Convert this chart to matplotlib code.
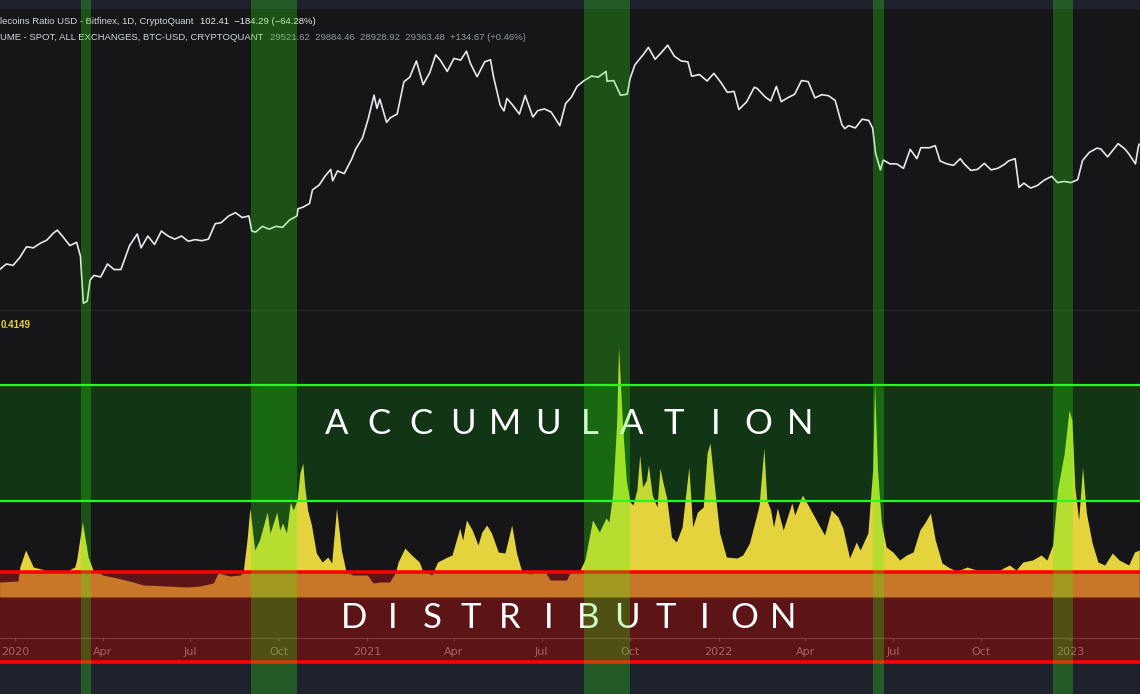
import matplotlib
matplotlib.use("Agg")
import matplotlib.pyplot as plt
import matplotlib.dates as mdates
import pandas as pd

# BTC-USD daily close (log scale)
price_dates = [
    '2019-12-16', '2019-12-23', '2019-12-30', '2020-01-06', '2020-01-13', '2020-01-20', '2020-01-27',
    '2020-02-03', '2020-02-10', '2020-02-14', '2020-02-20', '2020-02-27', '2020-03-05', '2020-03-09',
    '2020-03-12', '2020-03-16', '2020-03-19', '2020-03-23', '2020-03-30', '2020-04-06', '2020-04-13',
    '2020-04-20', '2020-04-29', '2020-05-07', '2020-05-11', '2020-05-18', '2020-05-25', '2020-06-01',
    '2020-06-08', '2020-06-15', '2020-06-22', '2020-06-29', '2020-07-06', '2020-07-13', '2020-07-20',
    '2020-07-27', '2020-08-02', '2020-08-10', '2020-08-17', '2020-08-24', '2020-08-31', '2020-09-03',
    '2020-09-07', '2020-09-14', '2020-09-21', '2020-09-28', '2020-10-05', '2020-10-12', '2020-10-20',
    '2020-10-21', '2020-10-26', '2020-11-02', '2020-11-05', '2020-11-12', '2020-11-18', '2020-11-24',
    '2020-11-26', '2020-12-01', '2020-12-08', '2020-12-16', '2020-12-20', '2020-12-27', '2021-01-02',
    '2021-01-08', '2021-01-11', '2021-01-14', '2021-01-21', '2021-01-25', '2021-02-01', '2021-02-08',
    '2021-02-14', '2021-02-21', '2021-02-28', '2021-03-07', '2021-03-13', '2021-03-18', '2021-03-25',
    '2021-04-01', '2021-04-08', '2021-04-14', '2021-04-18', '2021-04-25', '2021-05-03', '2021-05-09',
    '2021-05-12', '2021-05-19', '2021-05-23', '2021-05-26', '2021-06-01', '2021-06-08', '2021-06-14',
    '2021-06-22', '2021-06-27', '2021-07-04', '2021-07-11', '2021-07-20', '2021-07-26', '2021-08-01',
    '2021-08-07', '2021-08-14', '2021-08-22', '2021-08-29', '2021-09-06', '2021-09-07', '2021-09-14',
    '2021-09-21', '2021-09-28', '2021-10-01', '2021-10-06', '2021-10-15', '2021-10-20', '2021-10-27',
    '2021-11-03', '2021-11-09', '2021-11-16', '2021-11-23', '2021-11-30', '2021-12-04', '2021-12-12',
    '2021-12-20', '2021-12-27', '2022-01-03', '2022-01-10', '2022-01-17', '2022-01-22', '2022-01-30',
    '2022-02-07', '2022-02-10', '2022-02-18', '2022-02-24', '2022-03-02', '2022-03-07', '2022-03-14',
    '2022-03-21', '2022-03-28', '2022-04-04', '2022-04-11', '2022-04-18', '2022-04-25', '2022-05-02',
    '2022-05-09', '2022-05-12', '2022-05-16', '2022-05-23', '2022-05-30', '2022-06-06', '2022-06-10',
    '2022-06-13', '2022-06-18', '2022-06-21', '2022-06-28', '2022-07-05', '2022-07-12', '2022-07-19',
    '2022-07-26', '2022-07-30', '2022-08-08', '2022-08-14', '2022-08-19', '2022-08-26', '2022-09-02',
    '2022-09-09', '2022-09-13', '2022-09-20', '2022-09-27', '2022-10-04', '2022-10-11', '2022-10-18',
    '2022-10-25', '2022-10-29', '2022-11-05', '2022-11-09', '2022-11-14', '2022-11-21', '2022-11-28',
    '2022-12-05', '2022-12-13', '2022-12-19', '2022-12-26', '2023-01-02', '2023-01-09', '2023-01-14',
    '2023-01-21', '2023-01-29', '2023-02-02', '2023-02-09', '2023-02-16', '2023-02-20', '2023-02-27',
    '2023-03-03', '2023-03-10', '2023-03-13', '2023-03-14',
]
price_values = [
    6900, 7300, 7200, 7800, 8700, 8600, 9000,
    9300, 10000, 10300, 9600, 8800, 9100, 7900,
    4900, 5000, 6200, 6500, 6400, 7300, 6900,
    6900, 8800, 9900, 8600, 9700, 8900, 10200,
    9700, 9400, 9700, 9200, 9350, 9250, 9400,
    11000, 11100, 11900, 12300, 11700, 11900, 10200,
    10100, 10700, 10400, 10700, 10600, 11400, 11900,
    12800, 13000, 13500, 15500, 16300, 17800, 19100,
    17000, 18800, 18300, 21300, 23500, 26300, 32000,
    40600, 35500, 39000, 30800, 32300, 33500, 46500,
    48700, 57500, 45200, 51200, 61200, 57800, 51700,
    59000, 58000, 63500, 56200, 49000, 57000, 58200,
    49200, 36700, 34600, 39300, 36700, 33500, 40500,
    32500, 34700, 35300, 34200, 29800, 37300, 39800,
    44500, 47000, 49300, 48800, 51700, 46800, 47100,
    40600, 41000, 48100, 55300, 61600, 66000, 58500,
    63000, 67500, 60300, 57500, 57000, 49200, 50100,
    46900, 50700, 46400, 41800, 42200, 35100, 37900,
    44000, 43500, 40000, 38300, 44400, 38000, 39600,
    41000, 47100, 46600, 39500, 40800, 40400, 38500,
    30100, 28900, 29800, 29100, 31800, 31400, 29000,
    22500, 19000, 21000, 20200, 20200, 19300, 23400,
    21300, 23800, 23800, 24300, 20800, 20200, 19900,
    21300, 20200, 18900, 19100, 20300, 19000, 19300,
    20100, 20800, 21300, 15900, 16600, 15800, 16200,
    17100, 17800, 16700, 16900, 16700, 17200, 20900,
    22700, 23700, 23500, 21700, 23600, 24800, 23500,
    22400, 20200, 24100, 24700,
]

# Stablecoins ratio indicator (arbitrary units)
ratio_dates = [
    '2019-12-16', '2020-01-04', '2020-01-06', '2020-01-12', '2020-01-20', '2020-02-01', '2020-02-06',
    '2020-02-22', '2020-03-03', '2020-03-05', '2020-03-11', '2020-03-17', '2020-03-22', '2020-03-29',
    '2020-04-01', '2020-04-16', '2020-05-03', '2020-05-13', '2020-06-07', '2020-06-28', '2020-07-11',
    '2020-07-25', '2020-07-30', '2020-08-11', '2020-08-22', '2020-08-25', '2020-08-29', '2020-09-01',
    '2020-09-06', '2020-09-11', '2020-09-19', '2020-09-22', '2020-09-29', '2020-10-02', '2020-10-05',
    '2020-10-09', '2020-10-13', '2020-10-16', '2020-10-20', '2020-10-23', '2020-10-26', '2020-10-28',
    '2020-10-31', '2020-11-04', '2020-11-09', '2020-11-15', '2020-11-21', '2020-11-25', '2020-11-30',
    '2020-12-05', '2020-12-10', '2020-12-17', '2021-01-01', '2021-01-07', '2021-01-14', '2021-01-24',
    '2021-01-30', '2021-02-02', '2021-02-09', '2021-02-16', '2021-02-24', '2021-02-27', '2021-03-09',
    '2021-03-15', '2021-03-25', '2021-03-30', '2021-04-07', '2021-04-10', '2021-04-14', '2021-04-20',
    '2021-04-26', '2021-04-30', '2021-05-05', '2021-05-10', '2021-05-17', '2021-05-24', '2021-05-31',
    '2021-06-05', '2021-06-10', '2021-06-19', '2021-07-01', '2021-07-06', '2021-07-10', '2021-07-27',
    '2021-08-01', '2021-08-09', '2021-08-15', '2021-08-23', '2021-08-30', '2021-09-06', '2021-09-09',
    '2021-09-13', '2021-09-17', '2021-09-19', '2021-09-23', '2021-09-27', '2021-10-01', '2021-10-04',
    '2021-10-08', '2021-10-11', '2021-10-14', '2021-10-18', '2021-10-20', '2021-10-24', '2021-10-29',
    '2021-11-01', '2021-11-04', '2021-11-08', '2021-11-13', '2021-11-18', '2021-11-24', '2021-12-01',
    '2021-12-05', '2021-12-10', '2021-12-16', '2021-12-20', '2021-12-23', '2021-12-28', '2022-01-02',
    '2022-01-09', '2022-01-20', '2022-01-26', '2022-02-02', '2022-02-09', '2022-02-12', '2022-02-17',
    '2022-02-20', '2022-02-24', '2022-02-27', '2022-03-03', '2022-03-09', '2022-03-18', '2022-03-21',
    '2022-03-29', '2022-04-05', '2022-04-14', '2022-04-21', '2022-04-28', '2022-05-05', '2022-05-10',
    '2022-05-17', '2022-05-24', '2022-05-28', '2022-06-05', '2022-06-10', '2022-06-12', '2022-06-15',
    '2022-06-19', '2022-06-24', '2022-07-01', '2022-07-08', '2022-07-15', '2022-07-22', '2022-07-29',
    '2022-08-03', '2022-08-09', '2022-08-14', '2022-08-21', '2022-08-29', '2022-09-06', '2022-09-16',
    '2022-09-26', '2022-10-06', '2022-10-20', '2022-10-30', '2022-11-06', '2022-11-13', '2022-11-23',
    '2022-12-02', '2022-12-08', '2022-12-14', '2022-12-19', '2022-12-26', '2022-12-31', '2023-01-03',
    '2023-01-06', '2023-01-10', '2023-01-14', '2023-01-18', '2023-01-24', '2023-01-30', '2023-02-06',
    '2023-02-14', '2023-02-21', '2023-03-03', '2023-03-09', '2023-03-14',
]
ratio_values = [
    1.5, 1.6, 3.0, 4.7, 3.0, 2.7, 2.5,
    2.5, 3.0, 3.7, 7.5, 4.0, 2.7, 2.4,
    2.2, 1.9, 1.5, 1.2, 1.1, 1.0, 1.1,
    1.4, 2.4, 2.1, 2.2, 2.5, 5.7, 8.9,
    4.7, 5.7, 8.5, 6.4, 8.5, 6.7, 7.4,
    6.4, 9.5, 8.7, 9.7, 12.4, 13.4, 11.0,
    8.7, 7.2, 4.4, 3.5, 4.0, 3.4, 8.9,
    4.7, 2.5, 2.2, 2.2, 1.4, 1.5, 1.5,
    2.4, 3.5, 4.9, 4.2, 3.5, 2.7, 2.2,
    3.5, 4.0, 4.2, 6.9, 5.7, 7.7, 6.7,
    5.2, 6.5, 7.2, 6.4, 4.5, 4.4, 7.2,
    4.4, 2.7, 2.3, 2.7, 2.3, 1.7, 1.7,
    2.7, 2.5, 3.7, 7.7, 6.5, 7.9, 7.5,
    10.4, 17.4, 25.0, 17.4, 11.7, 9.5, 9.2,
    10.7, 14.2, 11.0, 11.7, 13.2, 10.2, 9.0,
    12.9, 11.5, 9.9, 6.0, 5.5, 7.0, 13.0,
    7.0, 8.5, 9.0, 14.4, 15.4, 10.7, 6.4,
    4.0, 3.9, 4.2, 5.4, 8.0, 9.2, 14.9,
    9.7, 8.7, 7.0, 8.9, 6.7, 9.4, 8.2,
    10.2, 9.0, 7.4, 6.2, 8.7, 8.0, 6.9,
    3.9, 5.5, 4.7, 6.4, 12.7, 21.4, 12.7,
    7.4, 5.0, 4.5, 3.7, 4.2, 4.5, 6.7,
    7.4, 8.4, 5.7, 3.4, 2.9, 2.6, 3.0,
    2.7, 2.7, 2.7, 3.2, 2.7, 3.5, 3.7,
    4.2, 3.7, 5.2, 10.7, 14.4, 18.7, 17.7,
    11.0, 7.7, 13.0, 8.4, 5.4, 3.5, 3.2,
    4.4, 3.7, 3.2, 4.5, 4.7,
]

# highlighted accumulation periods
band_starts = ['2020-03-10', '2020-09-02', '2021-08-14', '2022-06-10', '2022-12-14']
band_ends = ['2020-03-20', '2020-10-20', '2021-10-01', '2022-06-22', '2023-01-04']

accum_low, accum_high = 9.6, 21.2
distrib_low, distrib_high = -6.5, 2.5

tick_dates = ['2020-01-01', '2020-04-01', '2020-07-01', '2020-10-01', '2021-01-01', '2021-04-01',
              '2021-07-01', '2021-10-01', '2022-01-01', '2022-04-01', '2022-07-01', '2022-10-01',
              '2023-01-01']
tick_labels = ['2020', 'Apr', 'Jul', 'Oct', '2021', 'Apr', 'Jul', 'Oct', '2022', 'Apr', 'Jul', 'Oct', '2023']

W, H = 1140, 694
BG = '#161619'
OUTER = '#1e222d'


def d(s):
    return mdates.date2num(pd.to_datetime(s))


px_per_day = 0.9626
x_left = d('2020-01-01') - 15 / px_per_day
x_right = d('2020-01-01') + (W - 15) / px_per_day

fig = plt.figure(figsize=(W / 100, H / 100), dpi=100, facecolor=OUTER)
renderer = fig.canvas.get_renderer()

# price panel
ax_p = fig.add_axes([0, 1 - 311 / H, 1, (311 - 9) / H], facecolor=BG)
ax_p.set_yscale('log')
ax_p.plot([d(s) for s in price_dates], price_values, color='#e6e8ee', lw=1.2, zorder=3)
ax_p.set_xlim(x_left, x_right)
ax_p.set_ylim(4527, 97500)
ax_p.set_xticks([])
ax_p.set_yticks([])
ax_p.minorticks_off()
for sp in ax_p.spines.values():
    sp.set_visible(False)
ax_p.spines['bottom'].set_visible(True)
ax_p.spines['bottom'].set_color('#6b6e78')
ax_p.spines['bottom'].set_linewidth(1)

# ratio panel
ax_r = fig.add_axes([0, 1 - 662 / H, 1, (662 - 311) / H], facecolor=BG)
rx = [d(s) for s in ratio_dates]
ax_r.fill_between(rx, 0, ratio_values, color='#e4d33c', lw=0, zorder=2)
ax_r.set_xlim(x_left, x_right)
ax_r.set_ylim(-6.5, 28.6)
ax_r.set_xticks([])
ax_r.set_yticks([])
for sp in ax_r.spines.values():
    sp.set_visible(False)

# time axis drawn inside the lower band
ax_r.axhline(-4.1, color='#9a9da6', lw=0.8, alpha=0.5, zorder=2.5)
for td, tl in zip(tick_dates, tick_labels):
    ax_r.vlines(d(td), -4.4, -4.1, color='#9a9da6', lw=0.8, alpha=0.6, zorder=2.5)
    ax_r.text(d(td), -5.5, tl, color='#a6a9b2', fontsize=8, ha='center', va='center', zorder=2.5)

# zones
ax_r.axhspan(accum_low, accum_high, color='#00ff00', alpha=0.14, lw=0, zorder=3)
ax_r.axhline(accum_low, color='#1cff1c', lw=1.6, zorder=4)
ax_r.axhline(accum_high, color='#1cff1c', lw=1.6, zorder=4)
ax_r.axhspan(distrib_low, distrib_high, color='#aa1314', alpha=0.48, lw=0, zorder=5)
ax_r.axhline(distrib_high, color='#ff0000', lw=2.6, zorder=6)
ax_r.axhline(distrib_low, color='#ff0000', lw=2.6, zorder=6, clip_on=False)

# spaced zone titles
for i, ch in enumerate('ACCUMULATION'):
    fig.text((337 + i * 42.1) / W, 1 - 424.5 / H, ch, color='white', fontsize=25,
             family='Lato', ha='center', va='center', zorder=4)
for i, ch in enumerate('DISTRIBUTION'):
    fig.text((354 + i * 39.0) / W, 1 - 618 / H, ch, color='white', fontsize=25,
             family='Lato', ha='center', va='center', zorder=4)

# legend lines: label, then values right after it
leg_font = ['Liberation Sans', 'DejaVu Sans']
legend_rows = [
    (22, 'lecoins Ratio USD - Bitfinex, 1D, CryptoQuant', '102.41  \u2212184.29 (\u221264.28%)', '#e8e9ee'),
    (37, 'UME - SPOT, ALL EXCHANGES, BTC-USD, CRYPTOQUANT',
     '29521.62  29884.46  28928.92  29363.48  +134.67 (+0.46%)', '#9598a1'),
]
for y_px, label, values, vcol in legend_rows:
    t = fig.text(0.5 / W, 1 - y_px / H, label, color='#d1d4dc', fontsize=6.8,
                 family=leg_font, va='center', zorder=4)
    x1 = t.get_window_extent(renderer).x1
    fig.text((x1 + 6) / W, 1 - y_px / H, values, color=vcol, fontsize=6.8,
             family=leg_font, va='center', zorder=4)
fig.text(1 / W, 1 - 325 / H, '0.4149', color='#e4d33c', fontsize=7, family=leg_font,
         fontweight='bold', va='center', zorder=4)

# green highlight columns over everything
ax_o = fig.add_axes([0, 0, 1, 1], facecolor='none', zorder=10)
ax_o.set_xlim(x_left, x_right)
ax_o.set_ylim(0, 1)
ax_o.axis('off')
for s, e in zip(band_starts, band_ends):
    ax_o.axvspan(d(s), d(e), color='#30ff10', alpha=0.26, lw=0)

fig.savefig('out.png', dpi=100, facecolor=OUTER)
